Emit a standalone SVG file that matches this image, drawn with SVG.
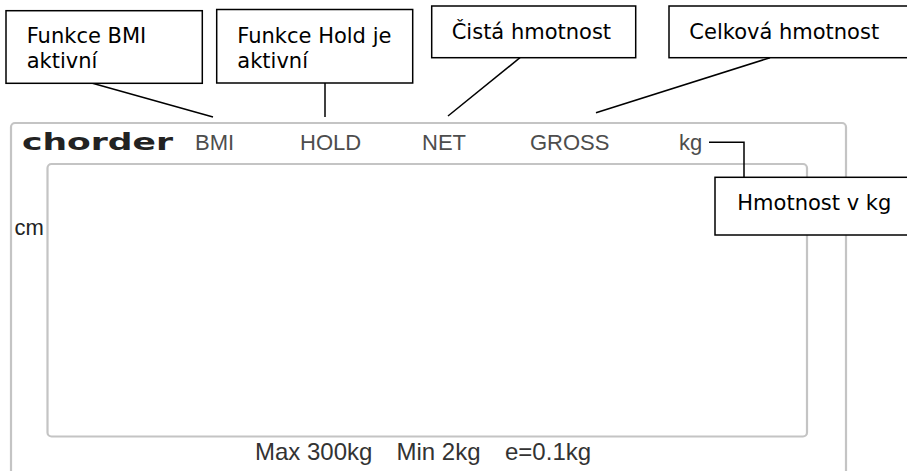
<svg xmlns="http://www.w3.org/2000/svg" width="907" height="471" viewBox="0 0 907 471">
<style>
.box{fill:#fff;stroke:#000;stroke-width:1.5}
.lbl{font-family:"DejaVu Sans",Verdana,sans-serif;font-size:21px;fill:#000}
.conn{stroke:#000;stroke-width:1.5;fill:none}
.disp{fill:none;stroke:#c4c4c4;stroke-width:2.2}
.ind{font-family:"Liberation Sans",Arial,sans-serif;font-size:22px;fill:#4d4d4d}
</style>
<rect width="907" height="471" fill="#fff"/>
<g id="display">
<rect class="disp" x="11" y="123" width="835" height="400" rx="4"/>
<rect class="disp" x="47.5" y="164" width="759.5" height="272.5" rx="4"/>
<text x="22" y="149.5" font-family="DejaVu Sans,sans-serif" font-weight="bold" font-size="23" fill="#222" textLength="151" lengthAdjust="spacingAndGlyphs">chorder</text>
<text class="ind" x="195" y="149.5">BMI</text>
<text class="ind" x="300" y="149.5">HOLD</text>
<text class="ind" x="422" y="149.5">NET</text>
<text class="ind" x="530" y="149.5">GROSS</text>
<text class="ind" x="679" y="149.5">kg</text>
<text x="14.5" y="235" font-family="Liberation Sans,Arial,sans-serif" font-size="22" fill="#222">cm</text>
<text font-family="Liberation Sans,Arial,sans-serif" font-size="24" fill="#333" y="460"><tspan x="255">Max 300kg</tspan><tspan x="396.5">Min 2kg</tspan><tspan x="505">e=0.1kg</tspan></text>
</g>
<g id="connectors">
<line class="conn" x1="92.5" y1="83.3" x2="213" y2="117"/>
<line class="conn" x1="325" y1="83" x2="325" y2="117"/>
<line class="conn" x1="520" y1="57.7" x2="448" y2="116"/>
<line class="conn" x1="770" y1="57.7" x2="596" y2="112.7"/>
<polyline class="conn" points="709,142.3 744,142.3 744,177.3"/>
</g>
<g id="n-bmi">
<rect class="box" x="6" y="10.7" width="196.3" height="72.6"/>
<text class="lbl" x="26.7" y="43.3">Funkce BMI</text>
<text class="lbl" x="26.7" y="68.3">aktivní</text>
</g>
<g id="n-hold">
<rect class="box" x="216.7" y="9.5" width="196" height="73.5"/>
<text class="lbl" x="237.3" y="43">Funkce Hold je</text>
<text class="lbl" x="237.3" y="68">aktivní</text>
</g>
<g id="n-net">
<rect class="box" x="431.7" y="6" width="204" height="51.7"/>
<text class="lbl" x="451.7" y="39">Čistá hmotnost</text>
</g>
<g id="n-gross">
<rect class="box" x="669" y="6" width="245" height="51.7"/>
<text class="lbl" x="689.3" y="39">Celková hmotnost</text>
</g>
<g id="n-kg">
<rect class="box" x="715" y="177.3" width="199" height="57.7"/>
<text class="lbl" x="737.3" y="210">Hmotnost v kg</text>
</g>
</svg>
